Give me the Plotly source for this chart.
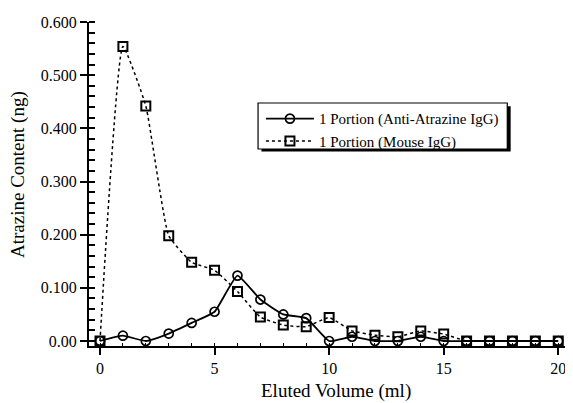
import plotly.graph_objects as go

volume = list(range(0, 21))
anti_atrazine = [0.0, 0.010, 0.0, 0.014, 0.034, 0.055, 0.123, 0.078, 0.050, 0.043,
                 0.0, 0.008, 0.0, 0.0, 0.008, 0.0, 0.0, 0.0, 0.0, 0.0, 0.0]
mouse_igg = [0.0, 0.554, 0.442, 0.198, 0.148, 0.133, 0.093, 0.045, 0.030, 0.027,
             0.044, 0.019, 0.011, 0.008, 0.019, 0.013, 0.0, 0.0, 0.0, 0.0, 0.0]
y_tick_vals = [0.0, 0.1, 0.2, 0.3, 0.4, 0.5, 0.6]
y_tick_text = ["0.00", "0.100", "0.200", "0.300", "0.400", "0.500", "0.600"]
x_tick_vals = [0, 5, 10, 15, 20]

font_family = "Liberation Serif"

fig = go.Figure()
fig.add_trace(go.Scatter(
    x=volume, y=anti_atrazine, mode="lines+markers",
    name="1 Portion (Anti-Atrazine IgG)",
    line=dict(color="black", width=1.8, shape="spline", smoothing=0.4),
    marker=dict(symbol="circle-open", size=9, color="black", line=dict(width=1.7)),
))
fig.add_trace(go.Scatter(
    x=volume, y=mouse_igg, mode="lines+markers",
    name="1 Portion (Mouse IgG)",
    line=dict(color="black", width=1.5, dash="dot", shape="spline", smoothing=0.4),
    marker=dict(symbol="square-open", size=9, color="black", line=dict(width=2)),
))

# legend frame with drop shadow (paper coords; plot area 483 x 324 px)
fig.add_shape(type="rect", xref="paper", yref="paper",
              x0=0.357, x1=0.873, y0=0.600, y1=0.740,
              fillcolor="black", line=dict(width=0), layer="below")
fig.add_shape(type="rect", xref="paper", yref="paper",
              x0=0.350, x1=0.866, y0=0.608, y1=0.750,
              fillcolor="white", line=dict(color="black", width=1.2), layer="below")

# page body has an 8px margin, so the figure is sized/offset to compensate
fig.update_layout(
    width=565, height=395,
    margin=dict(l=81, r=1, t=14, b=57),
    paper_bgcolor="white", plot_bgcolor="white",
    font=dict(family=font_family, color="black", size=15),
    showlegend=True,
    legend=dict(x=0.356, y=0.752, xanchor="left", yanchor="top",
                bgcolor="rgba(0,0,0,0)", borderwidth=0,
                font=dict(family=font_family, size=15), tracegroupgap=0,
                itemwidth=48),
    xaxis=dict(
        range=[-0.48, 20.6], tickvals=x_tick_vals, ticks="outside", ticklen=7,
        tickwidth=1.5, tickcolor="black", showline=True, linecolor="black",
        linewidth=2, showgrid=False, zeroline=False, automargin=False,
        tickfont=dict(size=16),
        minor=dict(dtick=1, ticks="inside", ticklen=3, tickcolor="black", tickwidth=1),
    ),
    yaxis=dict(
        range=[-0.0094, 0.6], tickvals=y_tick_vals, ticktext=y_tick_text,
        ticks="outside", ticklen=7, tickwidth=1.5, tickcolor="black",
        showline=True, linecolor="black", linewidth=2, showgrid=False,
        zeroline=False, automargin=False, tickfont=dict(size=16),
        minor=dict(dtick=0.02, tick0=0, ticks="inside", ticklen=6,
                   tickcolor="black", tickwidth=1.5),
    ),
    annotations=[
        dict(text="Eluted Volume (ml)", xref="paper", yref="paper",
             x=(336 - 89) / 483, y=-(391 - 346) / 324, xanchor="center",
             yanchor="middle", showarrow=False, font=dict(size=19)),
        dict(text="Atrazine Content (ng)", xref="paper", yref="paper",
             x=-(89 - 18) / 483, y=(346 - 175) / 324, xanchor="center",
             yanchor="middle", textangle=-90, showarrow=False,
             font=dict(size=19)),
    ],
)

fig.write_html("out.html")
